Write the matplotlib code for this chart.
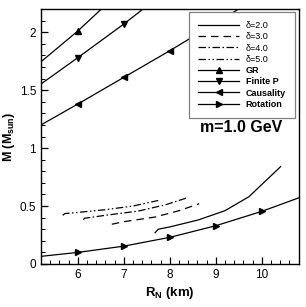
import matplotlib
matplotlib.use("Agg")
import matplotlib.pyplot as plt
from matplotlib.lines import Line2D
from matplotlib.ticker import MultipleLocator, FixedLocator

plt.rcParams['font.family'] = ['Liberation Sans', 'DejaVu Sans']

# Data
r_d2 = [7.68, 7.75, 8.0, 8.62, 9.2, 9.72, 10.41]
m_d2 = [0.27, 0.30, 0.32, 0.38, 0.46, 0.58, 0.84]
r_d3 = [6.74, 7.0, 7.68, 8.2, 8.64]
m_d3 = [0.343, 0.365, 0.405, 0.46, 0.52]
r_d4 = [6.12, 6.15, 6.6, 7.32, 7.9, 8.37]
m_d4 = [0.383, 0.395, 0.42, 0.457, 0.51, 0.57]
r_d5 = [5.67, 5.72, 6.0, 6.59, 7.2, 7.75]
m_d5 = [0.42, 0.435, 0.445, 0.468, 0.50, 0.548]
r_gr = [5.2, 6, 7]
m_gr = [1.745, 2.01, 2.38]
r_fp = [5.2, 6, 7, 8]
m_fp = [1.553, 1.78, 2.07, 2.38]
r_ca = [5.2, 6, 7, 8, 9, 10]
m_ca = [1.20, 1.38, 1.61, 1.84, 2.08, 2.32]
r_ro = [5.2, 6, 7, 8, 9, 10, 10.8]
m_ro = [0.066, 0.10, 0.154, 0.23, 0.33, 0.454, 0.57]
x_ticks = [6, 7, 8, 9, 10]
y_ticks = [0, 0.5, 1, 1.5, 2]
y_tick_labels = ["0", "0.5", "1", "1.5", "2"]
legend_labels = ["\u03b4=2.0", "\u03b4=3.0", "\u03b4=4.0", "\u03b4=5.0",
                 "GR", "Finite P", "Causality", "Rotation"]

fig = plt.figure(figsize=(3.06, 3.07), dpi=100)
ax = fig.add_axes([41/306, 1-264/307, (299-41)/306, (264-9)/307])

lw = 0.9
ms = 5
ax.plot(r_d2, m_d2, color='k', lw=lw, ls='-')
ax.plot(r_d3, m_d3, color='k', lw=lw, ls=(0, (6, 4)))
ax.plot(r_d4, m_d4, color='k', lw=lw, ls=(0, (6, 2, 1.2, 2)))
ax.plot(r_d5, m_d5, color='k', lw=lw, ls=(0, (6, 2, 1.2, 2, 1.2, 2)))
ax.plot(r_gr, m_gr, color='k', lw=lw, marker='^', ms=ms, markevery=[1, 2])
ax.plot(r_fp, m_fp, color='k', lw=lw, marker='v', ms=ms, markevery=[1, 2, 3])
ax.plot(r_ca, m_ca, color='k', lw=lw, marker='<', ms=ms, markevery=[1, 2, 3, 4, 5])
ax.plot(r_ro, m_ro, color='k', lw=lw, marker='>', ms=ms, markevery=[1, 2, 3, 4, 5])

ax.set_xlim(5.2, 10.81)
ax.set_ylim(0, 2.2)
ax.xaxis.set_major_locator(FixedLocator(x_ticks))
ax.xaxis.set_minor_locator(MultipleLocator(0.2))
ax.yaxis.set_major_locator(FixedLocator(y_ticks))
ax.set_yticklabels(y_tick_labels)
ax.yaxis.set_minor_locator(MultipleLocator(0.1))
ax.tick_params(which='both', direction='in', top=False, right=False, labelsize=8.5)
ax.tick_params(which='major', length=5, width=0.9)
ax.tick_params(which='minor', length=3, width=0.7)
for s in ax.spines.values():
    s.set_linewidth(1.0)

ax.set_xlabel(r"R$_\mathregular{N}$ (km)", fontsize=9.5, fontweight='bold', labelpad=3)
ax.set_ylabel(r"M (M$_\mathregular{sun}$)", fontsize=9, fontweight='bold', labelpad=2)

ax.text(241/306, 1-128/307, "m=1.0 GeV", transform=fig.transFigure,
        ha='center', va='center', fontsize=11.5, fontweight='bold')

handles = [
    Line2D([], [], color='k', lw=lw, ls='-'),
    Line2D([], [], color='k', lw=lw, ls=(0, (6, 4))),
    Line2D([], [], color='k', lw=lw, ls=(0, (6, 2, 1.2, 2))),
    Line2D([], [], color='k', lw=lw, ls=(0, (6, 2, 1.2, 2, 1.2, 2))),
    Line2D([], [], color='k', lw=lw, marker='^', ms=ms),
    Line2D([], [], color='k', lw=lw, marker='v', ms=ms),
    Line2D([], [], color='k', lw=lw, marker='<', ms=ms),
    Line2D([], [], color='k', lw=lw, marker='>', ms=ms),
]
leg = ax.legend(handles, legend_labels, loc='upper right',
                bbox_to_anchor=(295/306, 1-12/307), bbox_transform=fig.transFigure,
                fontsize=6.5, handlelength=4.5, handletextpad=0.75,
                labelspacing=0.25, borderpad=1.0, borderaxespad=0, fancybox=False,
                framealpha=1, edgecolor='0.5', markerscale=1.0)
leg.get_frame().set_linewidth(0.9)
for t in leg.get_texts()[4:]:
    t.set_fontweight('bold')

fig.savefig("out.png", dpi=100)
